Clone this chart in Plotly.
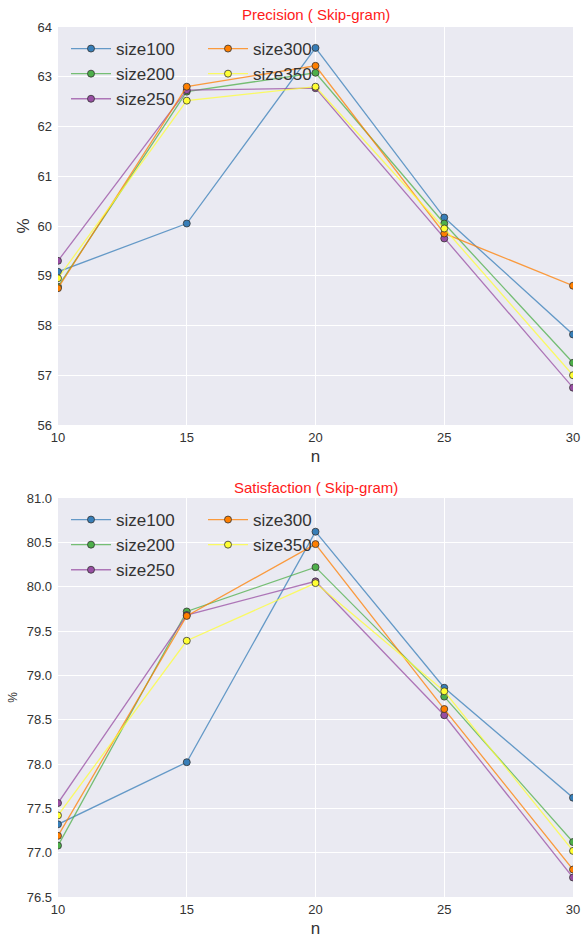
import plotly.graph_objects as go

n_values = [10, 15, 20, 25, 30]
series_names = ["size100", "size200", "size250", "size300", "size350"]

precision = {
    "size100": [59.08, 60.05, 63.58, 60.17, 57.82],
    "size200": [58.78, 62.70, 63.08, 60.05, 57.25],
    "size250": [59.30, 62.73, 62.77, 59.75, 56.75],
    "size300": [58.75, 62.80, 63.22, 59.85, 58.80],
    "size350": [58.95, 62.52, 62.80, 59.95, 57.00],
}
satisfaction = {
    "size100": [77.32, 78.02, 80.62, 78.86, 77.62],
    "size200": [77.08, 79.72, 80.22, 78.76, 77.12],
    "size250": [77.56, 79.68, 80.06, 78.55, 76.72],
    "size300": [77.19, 79.67, 80.48, 78.62, 76.81],
    "size350": [77.42, 79.39, 80.04, 78.82, 77.02],
}
colors = {
    "size100": "#377eb8",
    "size200": "#4daf4a",
    "size250": "#984ea3",
    "size300": "#ff7f00",
    "size350": "#ffff33",
}
titles = ["Precision ( Skip-gram)", "Satisfaction ( Skip-gram)"]
W, H = 584, 939
L, R, T, B = 58, 11, 27, 42
PW, PH = W - L - R, H - T - B
FONT = "Liberation Sans, Arial, sans-serif"

def px_x(px):
    return (px - L) / PW

def px_y(py):
    return (H - B - py) / PH

fig = go.Figure()

panels = [
    dict(data=precision, xa="x", ya="y", leg=("legend", "legend2")),
    dict(data=satisfaction, xa="x2", ya="y2", leg=("legend3", "legend4")),
]

def hex_rgba(h, a):
    h = h.lstrip("#")
    return f"rgba({int(h[0:2],16)},{int(h[2:4],16)},{int(h[4:6],16)},{a})"

for p in panels:
    for i, name in enumerate(series_names):
        leg = p["leg"][0] if i < 3 else p["leg"][1]
        fig.add_trace(go.Scatter(
            x=n_values, y=p["data"][name], name=name, mode="lines+markers",
            xaxis=p["xa"], yaxis=p["ya"], legend=leg,
            line=dict(color=hex_rgba(colors[name], 0.75), width=1.3),
            marker=dict(color=colors[name], size=7, line=dict(color="#333333", width=0.8)),
        ))

axis_common = dict(showgrid=True, gridcolor="white", gridwidth=1, zeroline=False, showline=False,
                   ticks="", automargin=False, tickfont=dict(size=13, color="#333333", family=FONT))

layout = dict(
    width=W, height=H, margin=dict(l=L, r=R, t=T, b=B),
    paper_bgcolor="white", plot_bgcolor="#eaeaf2",
    font=dict(family=FONT, color="#333333"),
    showlegend=True,
)
top_dom = [px_y(425), 1.0]
bot_dom = [0.0, px_y(498)]
layout["xaxis"] = dict(domain=[0, 1], anchor="y", range=[10, 30], dtick=5, ticklabelstandoff=3, **axis_common,
                       title=dict(text="n", font=dict(size=17, family=FONT, color="#333333"), standoff=6))
layout["yaxis"] = dict(domain=top_dom, anchor="x", range=[56, 64], dtick=1, tickformat="d",
                       ticklabelstandoff=5, **axis_common,
                       title=dict(text="%", font=dict(size=17, family=FONT, color="#333333"), standoff=3))
layout["xaxis2"] = dict(domain=[0, 1], anchor="y2", range=[10, 30], dtick=5, ticklabelstandoff=3, **axis_common,
                        title=dict(text="n", font=dict(size=17, family=FONT, color="#333333"), standoff=6))
layout["yaxis2"] = dict(domain=bot_dom, anchor="x2", range=[76.5, 81.0], dtick=0.5, tickformat=".1f",
                        ticklabelstandoff=5, **axis_common,
                        title=dict(text="%", font=dict(size=12, family=FONT, color="#333333"), standoff=6))

leg_common = dict(bgcolor="rgba(0,0,0,0)", font=dict(size=17, family=FONT, color="#333333"),
                  xanchor="left", yanchor="top", tracegroupgap=0, itemwidth=40)
layout["legend"] = dict(x=px_x(66), y=px_y(31), **leg_common)
layout["legend2"] = dict(x=px_x(203), y=px_y(31), **leg_common)
layout["legend3"] = dict(x=px_x(66), y=px_y(502), **leg_common)
layout["legend4"] = dict(x=px_x(203), y=px_y(502), **leg_common)

layout["annotations"] = [
    dict(text=titles[0], x=0.5, y=px_y(15), xref="paper", yref="paper",
         showarrow=False, font=dict(size=15, color="#ff1a1a", family=FONT), yanchor="middle"),
    dict(text=titles[1], x=0.5, y=px_y(487), xref="paper", yref="paper",
         showarrow=False, font=dict(size=15, color="#ff1a1a", family=FONT), yanchor="middle"),
]
fig.update_layout(**layout)
fig.write_html("out.html", config={"displayModeBar": False},
               post_script="document.body.style.margin='0';document.body.style.overflow='hidden';")
